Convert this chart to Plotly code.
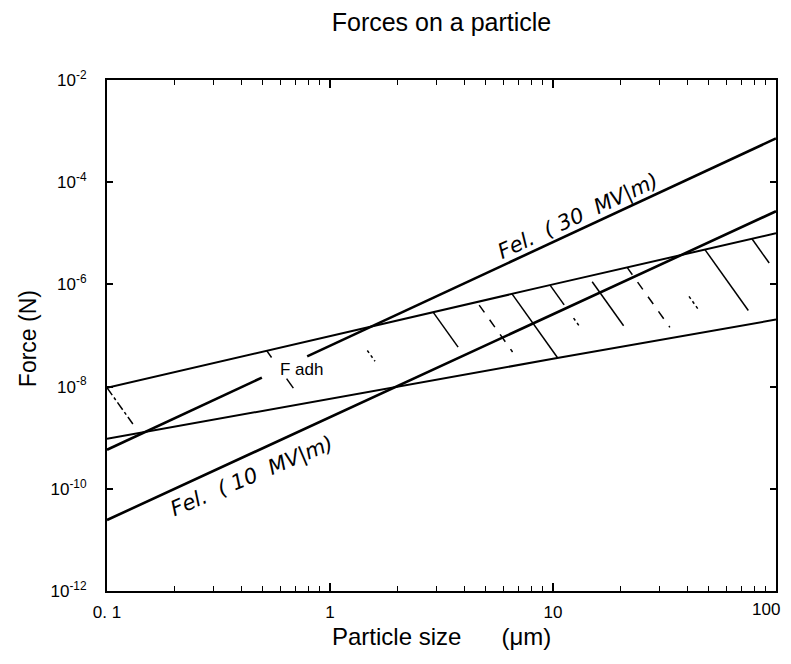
import numpy as np
import plotly.graph_objects as go

# ---- data ----
size_um = [0.1, 1, 10, 100]

fel30_a_x = [0.1, 0.495]
fel30_a = [5.8e-10, 1.5e-8]
fel30_b_x = [0.79, 1, 10, 100]
fel30_b = [3.9e-8, 6.3e-8, 6.8e-6, 7.2e-4]

fel10 = [2.45e-11, 2.5e-9, 2.6e-7, 2.7e-5]

fadh_upper = [9.5e-9, 9.8e-8, 1.0e-6, 1.0e-5]
fadh_lower = [9.5e-10, 5.8e-9, 3.5e-8, 2.05e-7]

# hatch strokes: start on upper F_adh boundary (um), drawn fractions and style
hatch_start_um = [0.1, 0.52, 1.27, 2.9, 4.56, 6.55, 9.7, 14.4, 21.5, 31, 48, 78]
hatch_pieces = [
    [(0.0, 0.8, "dashdot")],
    [(0.0, 0.13, "solid"), (0.53, 0.71, "solid")],
    [(0.35, 0.54, "dot")],
    [(0.0, 0.58, "solid")],
    [(0.05, 0.8, "dash")],
    [(0.0, 1.0, "solid")],
    [(0.0, 0.3, "solid"), (0.5, 0.62, "dot")],
    [(0.08, 0.73, "solid")],
    [(0.0, 0.86, "dash")],
    [(0.52, 0.72, "dot")],
    [(0.0, 0.83, "solid")],
    [(0.0, 0.3, "solid")],
]
hatch_slope = -6.12  # decades of force per decade of size

y_tick_vals = [1e-2, 1e-4, 1e-6, 1e-8, 1e-10, 1e-12]
y_tick_text = ["10<sup>-2</sup>", "10<sup>-4</sup>", "10<sup>-6</sup>", "10<sup>-8</sup>",
               "10<sup>-10</sup>", "10<sup>-12</sup>"]
x_tick_vals = [0.1, 1, 10, 100]
x_tick_text = ["0. 1", "1", "10", "100"]
x_minor = [0.2, 0.3, 0.4, 0.5, 0.6, 0.7, 0.8, 0.9, 2, 3, 4, 5, 6, 7, 8, 9,
           20, 30, 40, 50, 60, 70, 80, 90]

# ---- figure ----
fig = go.Figure()
FONT = "Liberation Sans, Arial, sans-serif"
HAND = "DejaVu Sans"

lx_pts = np.log10(size_um)
def logb(vals, lx):
    return np.interp(lx, lx_pts, np.log10(vals))

# hatching
for x0, pieces in zip(hatch_start_um, hatch_pieces):
    lx0 = np.log10(x0)
    ly0 = logb(fadh_upper, lx0)
    grid = np.linspace(lx0, lx0 + 1.0, 4001)
    hl = ly0 + hatch_slope * (grid - lx0)
    diff = hl - logb(fadh_lower, grid)
    idx = np.argmax(diff <= 0)
    lx1 = grid[idx]
    for t0, t1, dash in pieces:
        xa = lx0 + t0 * (lx1 - lx0)
        xb = lx0 + t1 * (lx1 - lx0)
        xs = [10 ** xa, 10 ** xb]
        ys = [10 ** (ly0 + hatch_slope * (xa - lx0)), 10 ** (ly0 + hatch_slope * (xb - lx0))]
        fig.add_trace(go.Scatter(x=xs, y=ys, mode="lines",
                                 line=dict(color="black", width=1.5, dash=dash),
                                 showlegend=False, hoverinfo="skip"))

fig.add_trace(go.Scatter(x=size_um, y=fadh_upper, mode="lines",
                         line=dict(color="black", width=2), showlegend=False))
fig.add_trace(go.Scatter(x=size_um, y=fadh_lower, mode="lines",
                         line=dict(color="black", width=2), showlegend=False))
fig.add_trace(go.Scatter(x=fel30_a_x, y=fel30_a, mode="lines",
                         line=dict(color="black", width=2.6), showlegend=False))
fig.add_trace(go.Scatter(x=fel30_b_x, y=fel30_b, mode="lines",
                         line=dict(color="black", width=2.6), showlegend=False))
fig.add_trace(go.Scatter(x=size_um, y=fel10, mode="lines",
                         line=dict(color="black", width=2.6), showlegend=False))

axis_common = dict(showline=True, linecolor="black", linewidth=2, mirror="ticks",
                   ticks="inside", tickcolor="black", tickwidth=1.5, showgrid=False,
                   zeroline=False, tickfont=dict(family=FONT, size=17, color="black"))

# last x label is drawn as an annotation, nudged left so it stays inside the page
fig.update_xaxes(type="log", range=[-1, 2], tickvals=x_tick_vals,
                 ticktext=x_tick_text[:-1] + [""],
                 ticklen=8, ticklabelstandoff=5,
                 minor=dict(ticks="inside", ticklen=5, tickvals=x_minor,
                            tickcolor="black", tickwidth=1.2),
                 **axis_common)
fig.update_yaxes(type="log", range=[-12, -2], tickvals=y_tick_vals, ticktext=y_tick_text,
                 ticklen=6, ticklabelstandoff=15, **axis_common)

annos = [
    dict(text=x_tick_text[-1], x=np.log10(x_tick_vals[-1]), xref="x", yref="paper",
         y=-0.037, xanchor="right", yanchor="middle", xshift=6, showarrow=False,
         font=dict(family=FONT, size=17, color="black")),
    dict(text="Particle size\u00a0\u00a0\u00a0\u00a0\u00a0 (μm)", xref="paper", yref="paper",
         x=0.5, y=-0.09, xanchor="center", yanchor="middle", showarrow=False,
         font=dict(family=FONT, size=24, color="black")),
    dict(text="Force (N)", xref="paper", yref="paper", x=-0.118, y=0.493,
         xanchor="center", yanchor="middle", textangle=-90, showarrow=False,
         font=dict(family=FONT, size=23, color="black")),
    dict(text="Fel.\u00a0\u00a0(\u00a030\u00a0\u00a0MV|m)", x=1.112, y=-4.667,
         xref="x", yref="y", textangle=-25, showarrow=False,
         font=dict(family=HAND, size=21, color="black", style="italic")),
    dict(text="Fel.\u00a0\u00a0(\u00a010\u00a0\u00a0MV|m)", x=-0.35, y=-9.765,
         xref="x", yref="y", textangle=-23, showarrow=False,
         font=dict(family=HAND, size=21, color="black", style="italic")),
    dict(text="F\u00a0adh", x=-0.126, y=-7.667, xref="x", yref="y", showarrow=False,
         font=dict(family=FONT, size=17, color="black")),
]

# the page body has an 8 px default margin; keep the figure inside the window
fig.update_layout(
    width=783, height=648,
    margin=dict(l=99, r=15, t=72, b=65, autoexpand=False),
    paper_bgcolor="white", plot_bgcolor="white",
    title=dict(text="Forces on a particle", x=0.5, xref="paper", xanchor="center",
               y=1 - 14 / 648, yanchor="middle",
               font=dict(family=FONT, size=25, color="black")),
    annotations=annos,
    showlegend=False,
)

fig.write_html("out.html")
